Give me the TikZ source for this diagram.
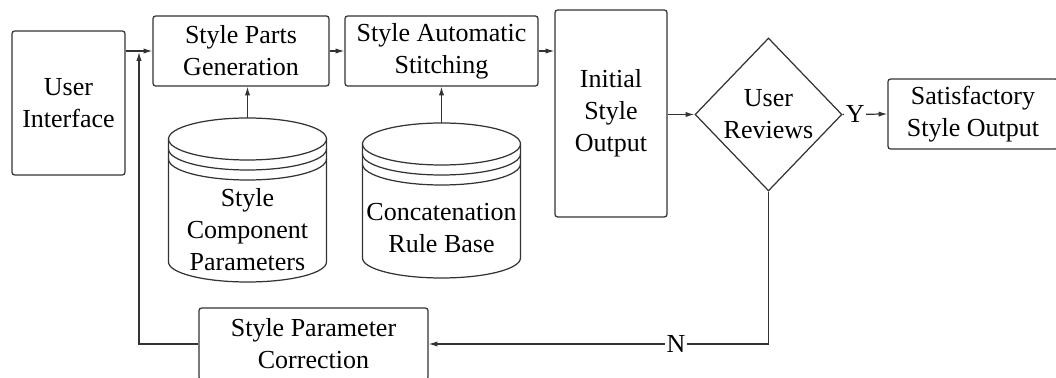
\documentclass[tikz,border=0pt]{standalone}
\usepackage{fontspec}
\setmainfont{Liberation Serif}
\usetikzlibrary{arrows.meta,shapes.geometric}

\tikzset{
  block/.style={draw=black!80, line width=0.7pt, rounded corners=1.5pt, align=center, inner sep=0pt},
  decide/.style={diamond, draw=black!80, line width=0.7pt, align=center, inner sep=0pt,
    minimum width=2.94cm, minimum height=3.06cm},
  line/.style={draw=black!80, line width=0.7pt},
  arr/.style={line, -{Latex[length=5pt,width=3pt]}},
  lbl/.style={fill=white, inner sep=1pt}
}

% database drawn as a stacked cylinder: #1 centre x, #2 top, #3 bottom
\newcommand{\dbcyl}[3]{%
  \draw[line] (#1-79,#2-21) -- (#1-79,#3+20)
    arc[start angle=180, end angle=360, x radius=1.58cm, y radius=0.4cm] -- (#1+79,#2-21);
  \draw[line] (#1,#2-21) ellipse[x radius=1.58cm, y radius=0.42cm];
  \foreach \d in {10,20}
    \draw[line] (#1-79,#2-21-\d) arc[start angle=180, end angle=360, x radius=1.58cm, y radius=0.42cm];
}

\begin{document}
\begin{tikzpicture}[x=0.02cm, y=0.02cm, font=\fontsize{14.8}{18.2}\selectfont]
\useasboundingbox (0,0) rectangle (1056,378);

% main row
\node[block, minimum width=2.26cm, minimum height=2.88cm] (ui) at (68.5,275) {User\\Interface};
\node[block, minimum width=3.52cm, minimum height=1.4cm] (spg) at (241,327) {Style Parts\\Generation};
\node[block, minimum width=3.86cm, minimum height=1.4cm] (sas) at (441.5,327) {Style Automatic\\Stitching};
\node[block, minimum width=2.24cm, minimum height=4.14cm] (iso) at (611,264.5) {Initial\\Style\\Output};
\node[decide] (rev) at (768.5,263.5) {User\\Reviews};
\node[block, minimum width=3.4cm, minimum height=1.4cm] (sat) at (973,264) {Satisfactory\\Style Output};
\node[block, minimum width=4.58cm, minimum height=1.44cm] (spc) at (313.5,34) {Style Parameter\\Correction};

% parameter stores
\dbcyl{247.5}{260}{96}
\dbcyl{441.5}{255}{100}
\coordinate (scptop) at (247.5,260);
\coordinate (crbtop) at (441.5,255);
\node[align=center] (scp) at (247.5,148) {Style\\Component\\Parameters};
\node[align=center] (crb) at (441.5,150) {Concatenation\\Rule Base};

% connectors
\draw[arr] (ui.east |- spg.west) -- (spg.west);
\draw[arr] (spg.east) -- (sas.west);
\draw[arr] (sas.east) -- (sas.east -| iso.west);
\draw[arr] (iso.east |- rev.west) -- (rev.west);
\draw[arr] (rev.east) -- node[lbl, pos=0.28] {Y} (sat.west);
\draw[arr] (scptop) -- (scptop |- spg.south);
\draw[arr] (crbtop) -- (crbtop |- sas.south);
\draw[arr] (rev.south) |- node[lbl, pos=0.636] {N} (spc.east);
\coordinate (fb) at (139,326);
\draw[arr] (spc.west) -| (fb);
\end{tikzpicture}
\end{document}
